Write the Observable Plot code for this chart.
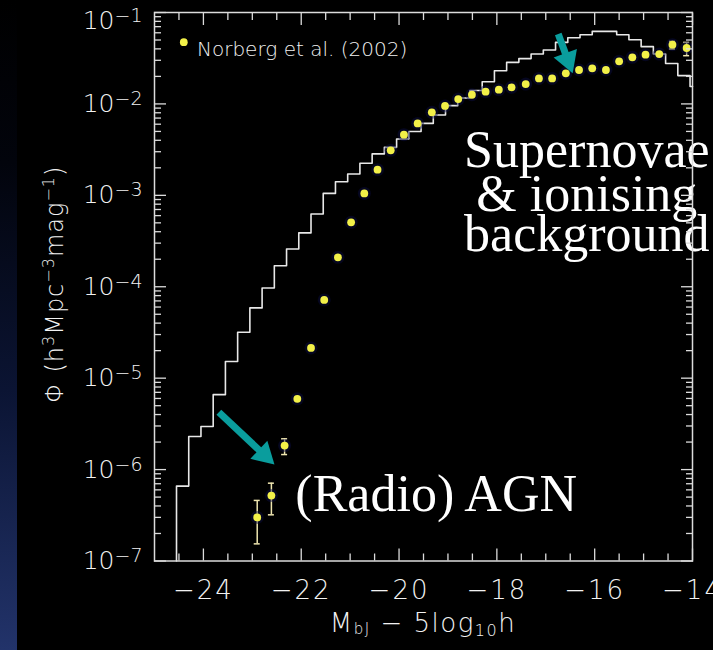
<!DOCTYPE html>
<html>
<head>
<meta charset="utf-8">
<script src="https://cdn.jsdelivr.net/npm/d3@7"></script>
<script src="https://cdn.jsdelivr.net/npm/@observablehq/plot@0.6"></script>
<style>
  html, body { margin: 0; padding: 0; background: #000; }
  #wrap { position: relative; width: 713px; height: 650px; overflow: hidden; background: #000; }
  #strip { position: absolute; left: 0; top: 0; width: 17px; height: 650px;
           background: linear-gradient(to bottom, #000 0%, #02040c 25%, #0b1433 60%, #22336a 100%); }
  #chart { position: absolute; left: 0; top: 0; }
</style>
</head>
<body>
<div id="wrap"><div id="strip"></div><div id="chart"></div></div>
<script>
// ---------- data ----------
const xDomain = [-25, -14];
const yDomain = [1e-7, 1e-1];

// axis ticks and labels
const xMajorTicks = [-24, -22, -20, -18, -16, -14];
const xMinorTicks = [-24.5, -23.5, -23, -22.5, -21.5, -21, -20.5, -19.5, -19, -18.5, -17.5, -17, -16.5, -15.5, -15, -14.5];
const yMajorTicks = [1e-7, 1e-6, 1e-5, 1e-4, 1e-3, 1e-2, 1e-1];
const yTickExponents = ["−7", "−6", "−5", "−4", "−3", "−2", "−1"];
const yMinorMultipliers = [2, 3, 4, 5, 6, 7, 8, 9];

// model luminosity function (white histogram): left bin edges and values
const modelEdges = [-24.55, -24.30, -24.05, -23.80, -23.55, -23.30, -23.05, -22.80, -22.55, -22.30,
  -22.05, -21.80, -21.55, -21.30, -21.05, -20.80, -20.55, -20.30, -20.05, -19.80,
  -19.55, -19.30, -19.05, -18.80, -18.55, -18.30, -18.05, -17.80, -17.55, -17.30,
  -17.05, -16.80, -16.55, -16.30, -16.05, -15.80, -15.55, -15.30, -15.05, -14.80,
  -14.55, -14.30, -14.05];
const modelPhi = [6.6e-7, 2.30e-6, 2.96e-6, 6.6e-6, 1.52e-5, 3.18e-5, 5.87e-5, 9.7e-5, 1.70e-4, 2.59e-4,
  3.88e-4, 6.26e-4, 1.05e-3, 1.41e-3, 1.71e-3, 2.24e-3, 2.84e-3, 3.35e-3, 4.14e-3, 5.0e-3,
  6.12e-3, 7.57e-3, 9.57e-3, 1.16e-2, 1.40e-2, 1.75e-2, 2.31e-2, 2.85e-2, 3.13e-2, 3.51e-2,
  3.89e-2, 4.71e-2, 5.30e-2, 5.72e-2, 6.21e-2, 6.21e-2, 5.72e-2, 5.04e-2, 4.23e-2, 3.51e-2,
  2.77e-2, 2.04e-2, 1.55e-2];

// Norberg et al. (2002) points
const normMag = [-22.90, -22.61, -22.34, -22.08, -21.80, -21.53, -21.25, -20.98, -20.71, -20.44,
  -20.17, -19.90, -19.62, -19.33, -19.06, -18.79, -18.51, -18.23, -17.96, -17.70,
  -17.41, -17.14, -16.87, -16.59, -16.32, -16.05, -15.77, -15.50, -15.23, -14.96,
  -14.68, -14.41, -14.12];
const normPhi = [3.0e-7, 5.2e-7, 1.83e-6, 5.94e-6, 2.14e-5, 7.18e-5, 2.10e-4, 5.07e-4, 1.05e-3, 1.91e-3,
  3.11e-3, 4.61e-3, 6.12e-3, 8.09e-3, 9.5e-3, 1.13e-2, 1.26e-2, 1.36e-2, 1.43e-2, 1.52e-2,
  1.65e-2, 1.90e-2, 1.90e-2, 2.16e-2, 2.35e-2, 2.45e-2, 2.35e-2, 2.92e-2, 3.23e-2, 3.46e-2,
  3.51e-2, 4.45e-2, 4.09e-2];
const normErrLo = [1.54e-7, 3.2e-7, 1.46e-6, null, null, null, null, null, null, null,
  null, null, null, null, null, null, null, null, null, null,
  null, null, null, null, null, null, null, null, null, null,
  null, 3.99e-2, 3.37e-2];
const normErrHi = [4.6e-7, 7.1e-7, 2.17e-6, null, null, null, null, null, null, null,
  null, null, null, null, null, null, null, null, null, null,
  null, null, null, null, null, null, null, null, null, null,
  null, 4.83e-2, 4.71e-2];

const legendLabel = ["Norberg et al. (2002)"];

// annotations
const arrowX1 = [-23.684, -16.745];
const arrowY1 = [4.24e-6, 5.82e-2];
const arrowX2 = [-22.547, -16.45];
const arrowY2 = [1.135e-6, 2.16e-2];

const snText = ["Supernovae", "& ionising", "background"];
const snX = [-16.16, -16.16, -16.16];
const snY = [2.02e-3, 6.81e-4, 2.48e-4];
const agnText = ["(Radio) AGN"];
const agnX = [-22.12];
const agnY = [3.56e-7];

// ---------- layout / style ----------
const W = 713, H = 650;
const mL = 154, mR = 21, mT = 12, mB = 89.5;
const fg = "#f2f2f2";
const frameColor = "#dcdcdc";
const teal = "#0a9d9d";
const dotColor = "#f2f048";
const errColor = "#efe6b0";

// build tables
const model = [{x: modelEdges[0], y: yDomain[0]}]
  .concat(modelEdges.map((e, i) => ({x: e, y: modelPhi[i]})))
  .concat([{x: xDomain[1], y: modelPhi[modelPhi.length - 1]}]);
const norb = normMag.map((m, i) => ({mag: m, phi: normPhi[i], lo: normErrLo[i], hi: normErrHi[i]}));
const norbErr = norb.filter(d => d.lo != null);
const yMinorTicks = yMajorTicks.slice(0, -1).flatMap(d => yMinorMultipliers.map(m => m * d));

// scales to orient arrow heads in screen space
const xS = Plot.scale({x: {domain: xDomain, range: [mL, W - mR]}});
const yS = Plot.scale({y: {type: "log", domain: yDomain, range: [H - mB, mT]}});
const headR = 9.2;
const headH = 2.333 * headR;
const arrows = arrowX1.map((x1, i) => {
  const p0 = [xS.apply(x1), yS.apply(arrowY1[i])];
  const p1 = [xS.apply(arrowX2[i]), yS.apply(arrowY2[i])];
  const len = Math.hypot(p1[0] - p0[0], p1[1] - p0[1]);
  const ux = (p1[0] - p0[0]) / len, uy = (p1[1] - p0[1]) / len;
  const cx = p1[0] - ux * headH * (2 / 3), cy = p1[1] - uy * headH * (2 / 3);
  const ex = p1[0] - ux * headH * 0.6, ey = p1[1] - uy * headH * 0.6;
  return {
    x1, y1: arrowY1[i],
    sx2: xS.invert(ex), sy2: yS.invert(ey),
    hx: xS.invert(cx), hy: yS.invert(cy),
    angle: Math.atan2(ux, -uy) * 180 / Math.PI
  };
});

const chart = Plot.plot({
  width: W, height: H,
  marginLeft: mL, marginRight: mR, marginTop: mT, marginBottom: mB,
  x: {domain: xDomain},
  y: {type: "log", domain: yDomain},
  style: {background: "transparent", color: fg, fontFamily: "'DejaVu Sans', sans-serif", overflow: "visible"},
  marks: [
    // model histogram
    Plot.line(model, {x: "x", y: "y", curve: "step-after", stroke: "#e8e8e8", strokeWidth: 1.6}),
    // error bars
    Plot.ruleX(norbErr, {x: "mag", y1: "lo", y2: "hi", stroke: errColor, strokeWidth: 1.5}),
    Plot.ruleY(norbErr, {y: "lo", x1: "mag", x2: "mag", insetLeft: -3, insetRight: -3, stroke: errColor, strokeWidth: 1.5}),
    Plot.ruleY(norbErr, {y: "hi", x1: "mag", x2: "mag", insetLeft: -3, insetRight: -3, stroke: errColor, strokeWidth: 1.5}),
    // data points
    Plot.dot(norb, {x: "mag", y: "phi", r: 6.5, fill: "#0a0d45", fillOpacity: 0.45}),
    Plot.dot(norb, {x: "mag", y: "phi", r: 3.9, fill: dotColor}),
    // legend
    Plot.dot(legendLabel, {frameAnchor: "top-left", dx: 29.3, dy: 29.7, r: 3.9, fill: dotColor}),
    Plot.text(legendLabel, {text: d => d, frameAnchor: "top-left", dx: 42.5, dy: 29.7, textAnchor: "start",
      fontSize: 20, fill: fg, fontWeight: 200}),
    // annotation arrows
    Plot.link(arrows, {x1: "x1", y1: "y1", x2: "sx2", y2: "sy2", stroke: teal, strokeWidth: 7, strokeLinecap: "butt"}),
    Plot.dot(arrows, {x: "hx", y: "hy", symbol: "triangle", r: headR, rotate: "angle", fill: teal, stroke: "none"}),
    // annotation texts
    Plot.text(snText, {x: (d, i) => snX[i], y: (d, i) => snY[i], text: d => d, textAnchor: "middle", lineAnchor: "bottom",
      fontSize: 52, fontFamily: "'Liberation Serif', 'Times New Roman', serif", fill: "#ffffff"}),
    Plot.text(agnText, {x: (d, i) => agnX[i], y: (d, i) => agnY[i], text: d => d, textAnchor: "start", lineAnchor: "bottom",
      fontSize: 52, fontFamily: "'Liberation Serif', 'Times New Roman', serif", fill: "#ffffff"}),
    // frame
    Plot.frame({stroke: frameColor, strokeWidth: 1.5}),
    // inward ticks on all four sides
    Plot.axisX(xMinorTicks, {anchor: "bottom", tickSize: -7, fill: "none", label: null, stroke: frameColor, strokeWidth: 1.3}),
    Plot.axisX(xMajorTicks, {anchor: "bottom", tickSize: -12, fill: "none", label: null, stroke: frameColor, strokeWidth: 1.3}),
    Plot.axisX(xMinorTicks, {anchor: "top", tickSize: -7, fill: "none", label: null, stroke: frameColor, strokeWidth: 1.3}),
    Plot.axisX(xMajorTicks, {anchor: "top", tickSize: -12, fill: "none", label: null, stroke: frameColor, strokeWidth: 1.3}),
    Plot.axisY(yMinorTicks, {anchor: "left", tickSize: -7, fill: "none", label: null, stroke: frameColor, strokeWidth: 1.3}),
    Plot.axisY(yMajorTicks, {anchor: "left", tickSize: -12, fill: "none", label: null, stroke: frameColor, strokeWidth: 1.3}),
    Plot.axisY(yMinorTicks, {anchor: "right", tickSize: -7, fill: "none", label: null, stroke: frameColor, strokeWidth: 1.3}),
    Plot.axisY(yMajorTicks, {anchor: "right", tickSize: -12, fill: "none", label: null, stroke: frameColor, strokeWidth: 1.3}),
    // tick labels
    Plot.axisX(xMajorTicks, {anchor: "bottom", tickSize: 0, tickPadding: 20, fontSize: 26, fontWeight: 200, label: null,
      tickFormat: d => (d < 0 ? "−" + Math.abs(d) : String(d))}),
    Plot.axisY(yMajorTicks, {anchor: "left", tickSize: 0, tickPadding: 12, fontSize: 25, fontWeight: 200, label: null,
      tickFormat: d => "10^" + yTickExponents[yMajorTicks.indexOf(d)]})
  ]
});

// wider letter spacing on x tick labels (Hershey-like font is wide)
d3.select(chart).selectAll('g[aria-label="x-axis tick label"] text').attr("letter-spacing", 2);

// superscripts on the y tick labels
d3.select(chart).selectAll('g[aria-label="y-axis tick label"] text').each(function () {
  const parts = this.textContent.split("^");
  if (parts.length !== 2) return;
  const t = d3.select(this);
  t.text(parts[0]);
  t.append("tspan").attr("dy", -7).attr("font-size", 19).text(parts[1]);
  if (parts[1] === "−1") t.attr("dy", 8);
});

// axis titles with sub/superscripts
const svg = d3.select(chart);
const xl = svg.append("text")
  .attr("x", (mL + W - mR) / 2).attr("y", 632)
  .attr("text-anchor", "middle").attr("fill", fg).attr("letter-spacing", 1.5)
  .attr("font-family", "'DejaVu Sans', sans-serif").attr("font-weight", 200).attr("font-size", 26);
xl.append("tspan").text("M");
xl.append("tspan").attr("font-size", 15).attr("dy", 2).text("bJ");
xl.append("tspan").attr("dy", -2).text(" − 5log");
xl.append("tspan").attr("font-size", 16).attr("dy", 4).text("10");
xl.append("tspan").attr("dy", -4).text("h");

const yl = svg.append("text")
  .attr("transform", `translate(63,${(mT + H - mB) / 2 - 2}) rotate(-90)`)
  .attr("text-anchor", "middle").attr("fill", fg).attr("letter-spacing", 1)
  .attr("font-family", "'DejaVu Sans', sans-serif").attr("font-weight", 200).attr("font-size", 24);
yl.append("tspan").text("Φ (h");
yl.append("tspan").attr("font-size", 16).attr("dy", -9).text("3");
yl.append("tspan").attr("dy", 9).text("Mpc");
yl.append("tspan").attr("font-size", 16).attr("dy", -9).text("−3");
yl.append("tspan").attr("dy", 9).text("mag");
yl.append("tspan").attr("font-size", 16).attr("dy", -9).text("−1");
yl.append("tspan").attr("dy", 9).text(")");

document.getElementById("chart").appendChild(chart);
</script>
</body>
</html>
